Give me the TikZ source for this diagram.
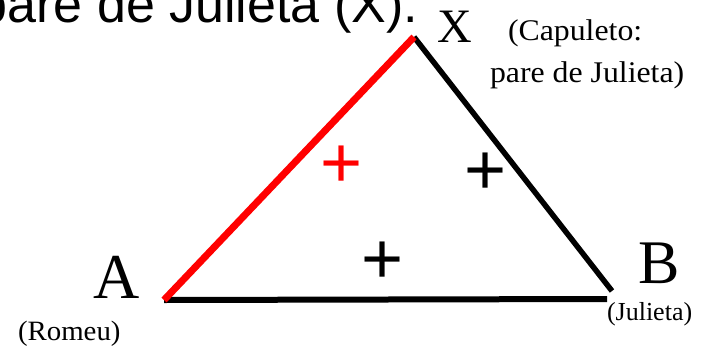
\documentclass[tikz,border=0pt]{standalone}
\usepackage{fontspec}
\setmainfont{Liberation Serif}
\newfontfamily\arialfont{Liberation Sans}
\begin{document}
\begin{tikzpicture}[x=1pt,y=-1pt,
  lbl/.style={inner sep=0pt,outer sep=0pt},
  big/.style={lbl,font=\fontsize{52}{60}\selectfont\arialfont},
  vert/.style={lbl,font=\fontsize{#1}{#1}\selectfont},
  sgn/.style={lbl,anchor=base,font=\fontsize{72}{72}\selectfont\arialfont},
  side/.style={line width=6pt,line cap=butt},
  redside/.style={line width=7pt,red,line cap=butt}]
\useasboundingbox (0,0) rectangle (707,346);
\clip (0,0) rectangle (707,346);
% vertices
\coordinate (A) at (164,300);
\coordinate (Xa) at (414,37);
\coordinate (B1) at (607,299);
\coordinate (B2) at (612,291);
% sides
\draw[side] (A) -- (B1);
\draw[side,line width=5.5pt] (Xa) -- (B2);
\draw[redside] (A) -- (Xa);
% heading (cut off at the top, as in the reference)
\node[big,anchor=base east] (head) at (418,22.5) {pare de Julieta (X).};
% vertex labels
\node[vert=48,anchor=base] (lx) at (455,42) {X};
\node[vert=64,anchor=base] (la) at (117,298) {A};
\node[vert=62,anchor=base] (lb) at (659,283) {B};
\node[vert=30,anchor=base west,xscale=1.06] (cap1) at (508,40) {(Capuleto:};
\node[vert=30,anchor=base west,xscale=1.06] (cap2) at (490,82) {pare de Julieta)};
\node[vert=28,anchor=base west,xscale=1.03] (rom) at (18,340) {(Romeu)};
\node[vert=26,anchor=base west] (jul) at (607,320) {(Julieta)};
% signs
\node[sgn,red] (s1) at (342,187) {+};
\node[sgn] (s2) at (486,194) {+};
\node[sgn] (s3) at (383,283) {+};
\end{tikzpicture}
\end{document}
